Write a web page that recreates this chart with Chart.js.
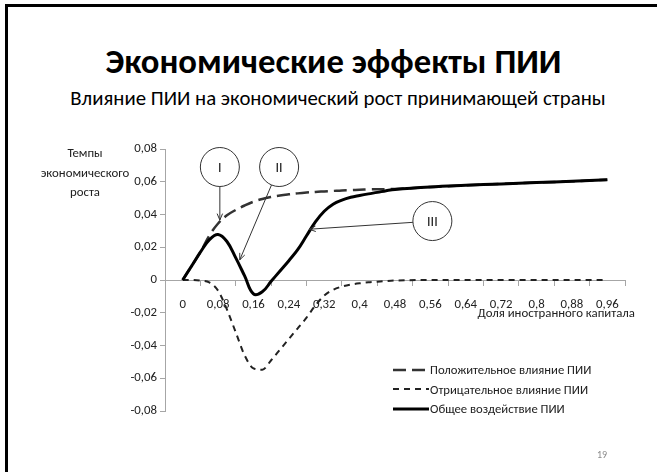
<!DOCTYPE html>
<html>
<head>
<meta charset="utf-8">
<script src="https://cdn.jsdelivr.net/npm/chart.js@4.4.0/dist/chart.umd.min.js"></script>
<style>
  html, body { margin: 0; padding: 0; background: #fff; }
  body { width: 657px; height: 472px; position: relative; overflow: hidden; font-family: Carlito, Lato, sans-serif; color: #000; }
  #frame { position: absolute; left: 5px; top: 4px; width: 700px; height: 500px; border-top: 3px solid #000; border-left: 3px solid #000; }
  #title { position: absolute; left: 0; width: 667px; top: 44px; text-align: center; font-weight: bold; font-size: 34.7px; line-height: 34.7px; white-space: nowrap; }
  #subtitle { position: absolute; left: 0; width: 676px; top: 88px; text-align: center; font-size: 20.8px; line-height: 20.8px; white-space: nowrap; }
  #chart { position: absolute; left: 0; top: 0; }
  #ytitle { position: absolute; left: 25px; width: 120px; top: 143px; text-align: center; font-size: 12.8px; line-height: 19.5px; color: #222; }
  #xtitle { position: absolute; right: 22px; top: 304px; font-size: 12.8px; line-height: 18px; color: #222; }
  #legend { position: absolute; left: 393px; top: 360px; font-size: 12.7px; color: #222; }
  #legend .row { height: 19.5px; line-height: 19.5px; display: flex; align-items: center; }
  #legend svg { display: block; margin-right: 1px; }
  #pagenum { position: absolute; left: 597px; top: 448px; font-size: 10px; color: #8c8c8c; }
</style>
</head>
<body>
<div id="frame"></div>
<div id="title">Экономические эффекты ПИИ</div>
<div id="subtitle">Влияние ПИИ на экономический рост принимающей страны</div>
<canvas id="chart" width="657" height="472"></canvas>
<div id="ytitle">Темпы<br>экономического<br>роста</div>
<div id="xtitle">Доля иностранного капитала</div>
<div id="legend"></div>
<div id="pagenum">19</div>
<script>
// доля иностранного капитала
const xValues = [0, 0.02, 0.04, 0.06, 0.08, 0.10, 0.12, 0.14, 0.16, 0.18, 0.20, 0.22, 0.24,
  0.26, 0.28, 0.30, 0.32, 0.34, 0.36, 0.38, 0.40, 0.42, 0.44, 0.46, 0.48,
  0.56, 0.64, 0.72, 0.80, 0.88, 0.96];

const positiveEffect = [0, 0.0085, 0.017, 0.027, 0.0345, 0.0395, 0.0428, 0.0455, 0.0478, 0.0495, 0.0507, 0.0516, 0.0523,
  0.0529, 0.0534, 0.0538, 0.0541, 0.0544, 0.0547, 0.0549, 0.0551, 0.0553, 0.0554, 0.0555, 0.0556,
  0.0568, 0.0578, 0.0587, 0.0595, 0.0603, 0.0612];

const negativeEffect = [0, 0, -0.0003, -0.0015, -0.0065, -0.018, -0.032, -0.046, -0.054, -0.0548, -0.049, -0.0425, -0.036,
  -0.0295, -0.023, -0.0155, -0.0095, -0.006, -0.004, -0.0028, -0.002, -0.0014, -0.001, -0.0006, -0.0003,
  0, 0, 0, 0, 0, 0];

const totalEffect = [0, 0.0085, 0.017, 0.0245, 0.0278, 0.0235, 0.0135, 0.0025, -0.0085, -0.0072, -0.0008, 0.0055, 0.0118,
  0.0185, 0.027, 0.0355, 0.042, 0.0463, 0.0488, 0.0505, 0.0516, 0.0526, 0.0535, 0.0545, 0.0553,
  0.0568, 0.0578, 0.0587, 0.0595, 0.0603, 0.0612];

const xTickValues = [0, 0.08, 0.16, 0.24, 0.32, 0.4, 0.48, 0.56, 0.64, 0.72, 0.8, 0.88, 0.96];
const xTickLabels = ['0', '0,08', '0,16', '0,24', '0,32', '0,4', '0,48', '0,56', '0,64', '0,72', '0,8', '0,88', '0,96'];
const yTickValues = [-0.08, -0.06, -0.04, -0.02, 0, 0.02, 0.04, 0.06, 0.08];

const axisGrey = '#a6a6a6';
const labelColor = '#222';

// кружки с номерами и стрелки (в единицах осей)
const callouts = [
  { label: 'I', cx: 0.084, cy: 0.069, tx: 0.084, ty: 0.0366 },
  { label: 'II', cx: 0.218, cy: 0.069, tx: 0.129, ty: 0.0123 },
  { label: 'III', cx: 0.5645, cy: 0.036, tx: 0.286, ty: 0.031 }
];

function toPoints(values) {
  return values.map((v, i) => ({ x: xValues[i], y: v }));
}

function findLabel(v) {
  const i = xTickValues.findIndex(t => Math.abs(t - v) < 1e-6);
  return i >= 0 ? xTickLabels[i] : null;
}

const calloutPlugin = {
  id: 'callouts',
  afterDatasetsDraw(chart) {
    const { ctx, scales: { x, y } } = chart;
    const r = 19.5;
    ctx.save();
    callouts.forEach(c => {
      const cx = x.getPixelForValue(c.cx), cy = y.getPixelForValue(c.cy);
      const tx = x.getPixelForValue(c.tx), ty = y.getPixelForValue(c.ty);
      const ang = Math.atan2(ty - cy, tx - cx);
      const sx = cx + r * Math.cos(ang), sy = cy + r * Math.sin(ang);
      ctx.strokeStyle = '#333';
      ctx.lineWidth = 1;
      ctx.beginPath();
      ctx.arc(cx, cy, r, 0, 2 * Math.PI);
      ctx.fillStyle = '#fff';
      ctx.fill();
      ctx.stroke();
      ctx.beginPath();
      ctx.moveTo(sx, sy);
      ctx.lineTo(tx, ty);
      ctx.stroke();
      const back = Math.atan2(sy - ty, sx - tx);
      ctx.beginPath();
      ctx.moveTo(tx + 7 * Math.cos(back + 0.4), ty + 7 * Math.sin(back + 0.4));
      ctx.lineTo(tx, ty);
      ctx.lineTo(tx + 7 * Math.cos(back - 0.4), ty + 7 * Math.sin(back - 0.4));
      ctx.stroke();
      ctx.fillStyle = '#111';
      ctx.font = '14px Carlito, sans-serif';
      ctx.textAlign = 'center';
      ctx.textBaseline = 'middle';
      ctx.fillText(c.label, cx, cy + 1);
    });
    ctx.restore();
  }
};

Chart.defaults.font.family = 'Carlito, Lato, sans-serif';
Chart.defaults.font.size = 12.8;
Chart.defaults.color = labelColor;

const chart = new Chart(document.getElementById('chart'), {
  type: 'line',
  data: {
    datasets: [
      {
        label: 'Положительное влияние ПИИ',
        data: toPoints(positiveEffect),
        borderColor: '#333',
        borderWidth: 2.5,
        borderDash: [13, 6],
        pointRadius: 0,
        tension: 0.4,
        order: 3
      },
      {
        label: 'Отрицательное влияние ПИИ',
        data: toPoints(negativeEffect),
        borderColor: '#222',
        borderWidth: 2,
        borderDash: [6, 5],
        pointRadius: 0,
        cubicInterpolationMode: 'monotone',
        order: 2
      },
      {
        label: 'Общее воздействие ПИИ',
        data: toPoints(totalEffect),
        borderColor: '#000',
        borderWidth: 3,
        pointRadius: 0,
        tension: 0.4,
        order: 1
      }
    ]
  },
  options: {
    responsive: false,
    animation: false,
    layout: { padding: { left: 105, right: 32, top: 149, bottom: 61 } },
    scales: {
      x: {
        type: 'linear',
        min: -0.04,
        max: 1.0,
        position: { y: 0 },
        afterFit: s => { s.height = 0; },
        afterBuildTicks: s => {
          const marks = xTickValues.map(v => v - 0.04).concat([xTickValues[xTickValues.length - 1] + 0.04]);
          s.ticks = xTickValues.concat(marks).sort((a, b) => a - b).map(v => ({ value: v }));
        },
        ticks: {
          autoSkip: false,
          maxRotation: 0,
          padding: 12,
          callback: v => findLabel(v) || ''
        },
        grid: {
          drawOnChartArea: false,
          tickLength: 5,
          color: ctx => (ctx.tick && findLabel(ctx.tick.value) !== null) ? 'rgba(0,0,0,0)' : axisGrey
        },
        border: { color: axisGrey, width: 1 }
      },
      y: {
        min: -0.08,
        max: 0.08,
        afterFit: s => { s.width = 60; },
        afterBuildTicks: s => { s.ticks = yTickValues.map(v => ({ value: v })); },
        ticks: {
          padding: 3,
          callback: v => String(Math.round(v * 100) / 100).replace('.', ',')
        },
        grid: { drawOnChartArea: false, tickLength: 5, color: axisGrey },
        border: { color: axisGrey, width: 1 }
      }
    },
    plugins: {
      legend: { display: false },
      tooltip: { enabled: false }
    }
  },
  plugins: [calloutPlugin]
});

// легенда
const legend = document.getElementById('legend');
chart.data.datasets.forEach(ds => {
  const row = document.createElement('div');
  row.className = 'row';
  const dash = ds.borderDash ? ds.borderDash.join(' ') : 'none';
  row.innerHTML = '<svg width="36" height="6"><line x1="0" y1="3" x2="36" y2="3" stroke="' + ds.borderColor +
    '" stroke-width="' + ds.borderWidth + '" stroke-dasharray="' + dash + '"/></svg><span>' + ds.label + '</span>';
  legend.appendChild(row);
});
</script>
</body>
</html>
